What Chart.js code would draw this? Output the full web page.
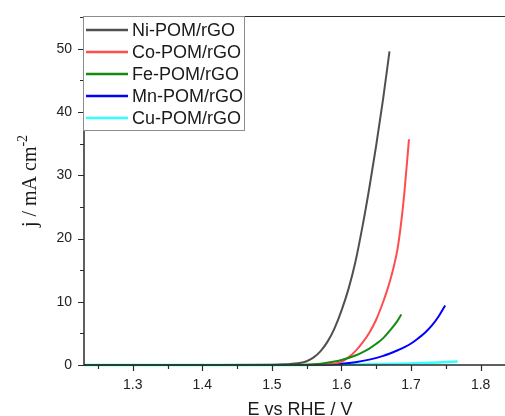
<!DOCTYPE html>
<html>
<head>
<meta charset="utf-8">
<script src="https://cdn.jsdelivr.net/npm/chart.js@4"></script>
<style>
  html, body { margin: 0; padding: 0; background: #fff; }
  #lsvChart { display: block; }
</style>
</head>
<body>
<canvas id="lsvChart" width="505" height="416"></canvas>
<script>
/**
 * LSV polarization curves for the M-POM/rGO catalysts
 */

const seriesLabels = ["Ni-POM/rGO", "Co-POM/rGO", "Fe-POM/rGO", "Mn-POM/rGO", "Cu-POM/rGO"];
const seriesColors = ["#505050", "#ff4d4d", "#138a13", "#0000ff", "#33ffff"];

// potential (V vs RHE) and current density (mA cm-2)
const niPotential = [1.23, 1.40, 1.50, 1.52, 1.54, 1.55, 1.56, 1.57, 1.58, 1.59, 1.60, 1.61, 1.62, 1.63, 1.64, 1.65, 1.66, 1.669];
const niCurrent = [0, 0, 0.02, 0.1, 0.3, 0.6, 1.2, 2.2, 3.7, 5.8, 8.6, 12.0, 16.3, 21.8, 28.0, 34.8, 42.2, 49.6];

const coPotential = [1.23, 1.50, 1.56, 1.58, 1.60, 1.61, 1.62, 1.63, 1.64, 1.65, 1.66, 1.665, 1.67, 1.675, 1.68, 1.685, 1.69, 1.697];
const coCurrent = [0, 0, 0.03, 0.12, 0.5, 1.2, 2.2, 3.5, 5.1, 7.2, 10.0, 11.6, 13.4, 15.5, 18.0, 21.8, 26.8, 35.7];

const fePotential = [1.23, 1.50, 1.55, 1.57, 1.59, 1.60, 1.61, 1.62, 1.63, 1.64, 1.65, 1.66, 1.67, 1.68, 1.686];
const feCurrent = [0, 0, 0.05, 0.2, 0.55, 0.8, 1.1, 1.5, 2.0, 2.6, 3.35, 4.25, 5.5, 6.9, 8.0];

const mnPotential = [1.23, 1.55, 1.58, 1.60, 1.62, 1.64, 1.66, 1.68, 1.69, 1.70, 1.71, 1.72, 1.73, 1.74, 1.749];
const mnCurrent = [0, 0, 0.05, 0.2, 0.45, 0.85, 1.45, 2.3, 2.8, 3.4, 4.2, 5.1, 6.25, 7.75, 9.4];

const cuPotential = [1.23, 1.55, 1.60, 1.65, 1.70, 1.74, 1.767];
const cuCurrent = [0, 0, 0.03, 0.1, 0.25, 0.4, 0.55];

const potentials = [niPotential, coPotential, fePotential, mnPotential, cuPotential];
const currents = [niCurrent, coCurrent, feCurrent, mnCurrent, cuCurrent];

const sansFont = "'Liberation Sans', Arial, sans-serif";
const serifFont = "'Liberation Serif', 'Times New Roman', serif";

const isMajor = (value) => Math.abs(value * 10 - Math.round(value * 10)) < 1e-6;
const isMajorY = (value) => Math.abs(value / 10 - Math.round(value / 10)) < 1e-6;

/**
 * Builds {x, y} points for one series
 * @param {number} i - series index
 * @return {Array<Object>}
 */
const toPoints = (i) => potentials[i].map((x, k) => ({ x: x, y: currents[i][k] }));

// axis lines, tick marks, legend box and axis titles
const framePlugin = {
  id: "frame",
  afterDraw: (chart) => {
    const ctx = chart.ctx;
    const area = chart.chartArea;
    const xScale = chart.scales.x;
    const yScale = chart.scales.y;

    ctx.save();
    ctx.strokeStyle = "#2b2b2b";

    // top border
    ctx.lineWidth = 1;
    ctx.beginPath();
    ctx.moveTo(area.left, area.top + 0.5);
    ctx.lineTo(area.right, area.top + 0.5);
    ctx.stroke();

    // axis lines
    ctx.lineWidth = 1.5;
    ctx.beginPath();
    ctx.moveTo(area.left, area.top);
    ctx.lineTo(area.left, area.bottom);
    ctx.lineTo(area.right, area.bottom);
    ctx.stroke();

    // tick marks
    ctx.lineWidth = 1.2;
    ctx.beginPath();
    xScale.ticks.forEach((tick) => {
      const px = Math.round(xScale.getPixelForValue(tick.value)) + 0.5;
      const len = isMajor(tick.value) ? 6 : 4;
      ctx.moveTo(px, area.bottom);
      ctx.lineTo(px, area.bottom + len);
    });
    yScale.ticks.forEach((tick) => {
      const py = Math.round(yScale.getPixelForValue(tick.value)) + 0.5;
      const len = isMajorY(tick.value) ? 6 : 4;
      ctx.moveTo(area.left, py);
      ctx.lineTo(area.left - len, py);
    });
    ctx.stroke();

    // legend box
    const boxX = 83.5;
    const boxY = 16.5;
    ctx.fillStyle = "#fff";
    ctx.fillRect(boxX, boxY, 161, 114);
    ctx.strokeStyle = "#8c8c8c";
    ctx.lineWidth = 1;
    ctx.strokeRect(boxX, boxY, 161, 114);

    ctx.font = "18px " + sansFont;
    ctx.textBaseline = "middle";
    ctx.textAlign = "left";
    chart.data.datasets.forEach((ds, i) => {
      const rowY = 30 + i * 22;
      ctx.strokeStyle = ds.borderColor;
      ctx.lineWidth = 2.5;
      ctx.beginPath();
      ctx.moveTo(86, rowY);
      ctx.lineTo(128, rowY);
      ctx.stroke();
      ctx.fillStyle = "#1a1a1a";
      ctx.fillText(ds.label, 132, rowY + 1);
    });

    // x title
    ctx.fillStyle = "#1a1a1a";
    ctx.font = "18px " + sansFont;
    ctx.textAlign = "center";
    ctx.textBaseline = "alphabetic";
    ctx.fillText("E vs RHE / V", 300, 415);

    // y title with superscript
    ctx.translate(36, 181);
    ctx.rotate(-Math.PI / 2);
    const mainText = "j / mA cm";
    const supText = "-2";
    ctx.font = "20px " + serifFont;
    const mainWidth = ctx.measureText(mainText).width;
    ctx.font = "14px " + serifFont;
    const supWidth = ctx.measureText(supText).width;
    const startX = -(mainWidth + supWidth) / 2;
    ctx.textAlign = "left";
    ctx.font = "20px " + serifFont;
    ctx.fillText(mainText, startX, 0);
    ctx.font = "14px " + serifFont;
    ctx.fillText(supText, startX + mainWidth, -9);

    ctx.restore();
  },
};

const lsvChart = new Chart(document.getElementById("lsvChart"), {
  type: "line",
  data: {
    datasets: seriesLabels.map((label, i) => ({
      label: label,
      data: toPoints(i),
      borderColor: seriesColors[i],
      borderWidth: i === 4 ? 2.5 : 2,
      pointRadius: 0,
      fill: false,
      cubicInterpolationMode: "monotone",
      clip: false,
      order: i === 2 ? 0 : 1,
    })),
  },
  options: {
    responsive: false,
    animation: false,
    devicePixelRatio: 1,
    layout: { padding: { top: 16, right: 0, bottom: 0, left: 0 } },
    plugins: {
      legend: { display: false },
      tooltip: { enabled: false },
    },
    scales: {
      x: {
        type: "linear",
        min: 1.23,
        max: 1.835,
        grid: { display: false, drawTicks: true, tickLength: 8 },
        border: { display: false },
        ticks: {
          stepSize: 0.05,
          includeBounds: false,
          autoSkip: false,
          maxRotation: 0,
          padding: 4,
          color: "#222",
          font: { family: sansFont, size: 14 },
          callback: (value) => (isMajor(value) ? value.toFixed(1) : ""),
        },
        afterFit: (scale) => {
          scale.height = 51;
        },
      },
      y: {
        type: "linear",
        min: 0,
        max: 55.2,
        grid: { display: false, drawTicks: true, tickLength: 8 },
        border: { display: false },
        ticks: {
          stepSize: 5,
          includeBounds: false,
          autoSkip: false,
          padding: 4,
          color: "#222",
          font: { family: sansFont, size: 14 },
          callback: (value) => (isMajorY(value) ? String(Math.round(value)) : ""),
        },
        afterFit: (scale) => {
          scale.width = 84;
        },
      },
    },
  },
  plugins: [framePlugin],
});
</script>
</body>
</html>
